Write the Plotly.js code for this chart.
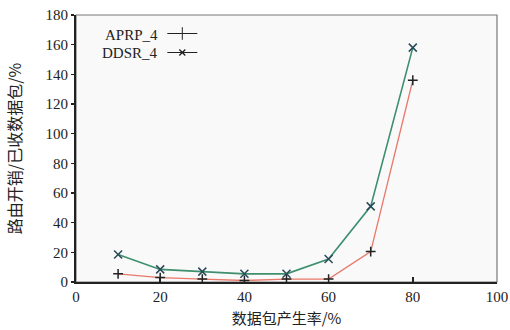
<!DOCTYPE html>
<html><head><meta charset="utf-8">
<script src="https://cdn.plot.ly/plotly-3.0.1.min.js"></script>
<style>html,body{margin:0;padding:0;background:#fff}#c{width:510px;height:330px}</style>
</head><body><div id="c"></div>
<script>
const xRate = [10, 20, 30, 40, 50, 60, 70, 80];
const aprp4 = [5.5, 3, 2, 1, 2, 2, 20.5, 136];
const ddsr4 = [18.5, 8.5, 7, 5.5, 5.5, 15.5, 51, 158];
const seriesNames = ['APRP_4', 'DDSR_4'];
const xTicks = [0, 20, 40, 60, 80, 100];
const yTicks = [0, 20, 40, 60, 80, 100, 120, 140, 160, 180];

const serif = "'Liberation Serif'";
const cjk = "'Noto Sans CJK SC'";

const traces = [
  {x: xRate, y: aprp4, mode: 'lines+markers', showlegend: false,
   line: {color: '#e8786a', width: 1.3},
   marker: {symbol: 'cross-thin', size: 7, color: '#222', line: {color: '#222', width: 1.5}}},
  {x: xRate, y: ddsr4, mode: 'lines+markers', showlegend: false,
   line: {color: '#3d8f6e', width: 1.6},
   marker: {symbol: 'x-thin', size: 8, color: '#2a4a5a', line: {color: '#2a4a5a', width: 1.5}}},
  {x: [null], y: [null], mode: 'lines+markers', name: ' ', showlegend: true,
   line: {color: '#222', width: 1}, marker: {symbol: 'line-ns', size: 9, color: '#222', line: {color: '#222', width: 1}}},
  {x: [null], y: [null], mode: 'lines+markers', name: ' ', showlegend: true,
   line: {color: '#222', width: 1}, marker: {symbol: 'x-thin', size: 6, color: '#222', line: {color: '#222', width: 1.3}}}
];

const layout = {
  width: 510, height: 330,
  margin: {l: 76, r: 13, t: 15, b: 48},
  paper_bgcolor: '#ffffff', plot_bgcolor: '#f9f9f9',
  font: {family: serif, size: 14, color: '#222'},
  xaxis: {range: [0, 100], tickvals: xTicks, ticktext: xTicks.map(String),
    ticks: 'inside', ticklen: 5, tickwidth: 1.5, tickcolor: '#222',
    showgrid: false, zeroline: false, showline: true, linecolor: '#222', linewidth: 2,
    tickfont: {family: serif, size: 15, color: '#222'},
    title: {text: '数据包产生率/%', font: {family: cjk, size: 15, color: '#222'}, standoff: 9}},
  yaxis: {range: [0, 180], tickvals: yTicks, ticktext: yTicks.map(String),
    ticks: 'outside', ticklen: 3, tickwidth: 1.5, tickcolor: '#222',
    showgrid: false, zeroline: false, showline: true, linecolor: '#222', linewidth: 2,
    tickfont: {family: serif, size: 15, color: '#222'},
    title: {text: '路由开销/已收数据包/%', font: {family: cjk, size: 16, color: '#222'}, standoff: 20}},
  shapes: [{type: 'rect', xref: 'paper', yref: 'paper', x0: 0, x1: 1, y0: 0, y1: 1,
    line: {color: '#777', width: 1.2}, layer: 'below'}],
  legend: {x: 0.205, y: 0.985, xanchor: 'left', yanchor: 'top', bgcolor: 'rgba(0,0,0,0)',
    font: {family: serif, size: 10}, tracegroupgap: 0, itemwidth: 30},
  annotations: seriesNames.map((n, i) => ({
    text: n, xref: 'paper', yref: 'paper', x: 0.2, y: 0.925 - i * 0.066,
    xanchor: 'right', yanchor: 'middle', showarrow: false,
    font: {family: serif, size: 15, color: '#222'}}))
};

Plotly.newPlot('c', traces, layout, {displayModeBar: false, staticPlot: true});
</script>
</body></html>
